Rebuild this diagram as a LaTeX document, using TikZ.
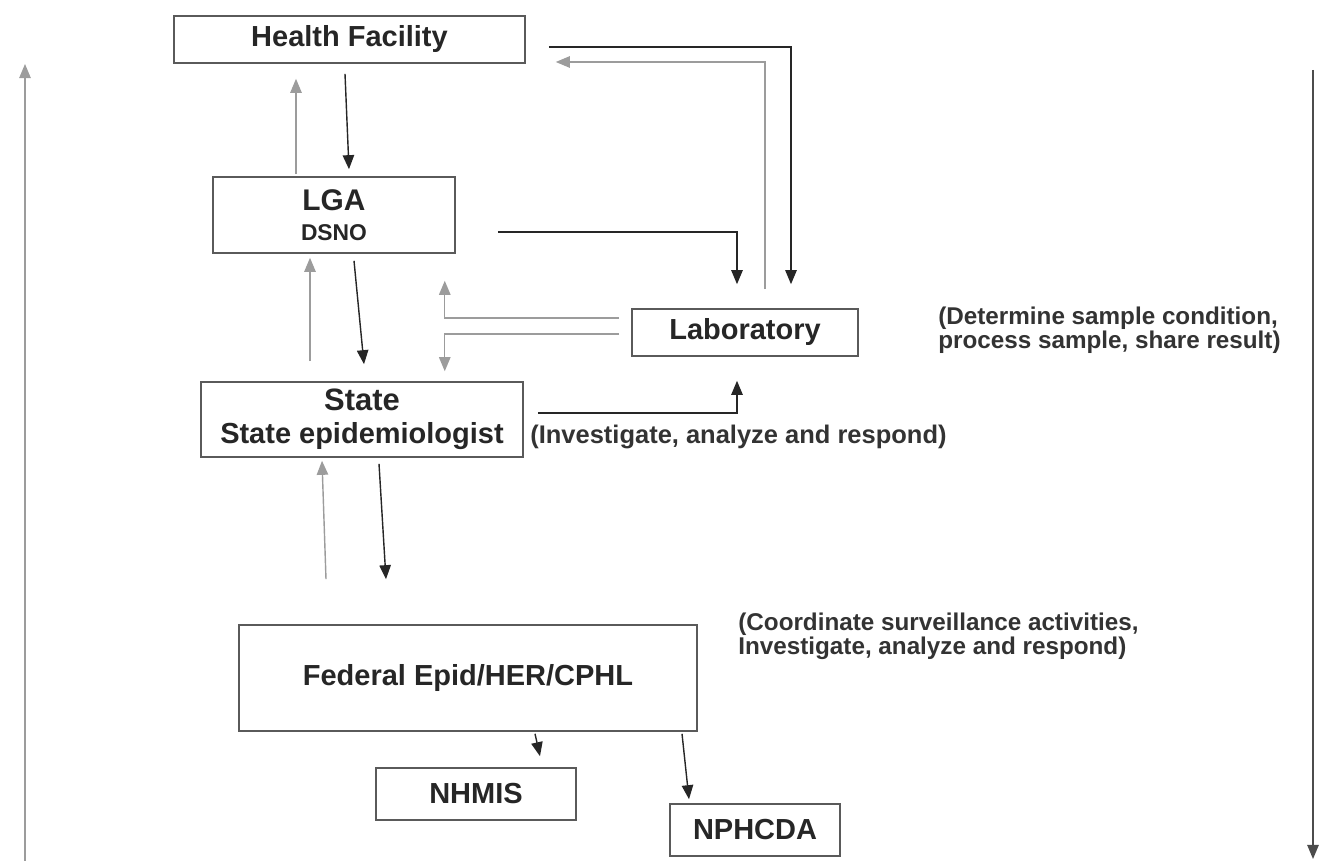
\documentclass[tikz,border=0pt]{standalone}
\usepackage{fontspec}
\setmainfont{Liberation Sans}
\usepackage{tikz}
\usetikzlibrary{arrows.meta, calc}
\definecolor{boxline}{HTML}{5A5A5A}
\definecolor{greyline}{HTML}{9C9C9C}
\definecolor{darkline}{HTML}{262626}
\tikzstyle{unit} = [rectangle, draw=boxline, line width=0.9pt, fill=white, text centered, font=\bfseries\fontsize{16.5}{19}\selectfont, text=black!85]
\tikzstyle{note} = [align=left, font=\bfseries\fontsize{13.8}{13.4}\selectfont, text=black!80, inner sep=0pt]
\tikzstyle{darrow} = [line width=0.8pt, draw=darkline, -{Triangle[length=8pt,width=6.5pt]}]
\tikzstyle{garrow} = [line width=0.8pt, draw=greyline, -{Triangle[length=8pt,width=6.5pt]}]

\begin{document}
\begin{tikzpicture}[x=0.02cm, y=-0.02cm]
  \useasboundingbox (0,0) rectangle (1319,861);
  \node (hf) [unit, minimum width=7.02cm, minimum height=0.94cm] at (349.5,39.5) {Health Facility};
  \node (lga) [unit, minimum width=4.84cm, minimum height=1.52cm, align=center] at (334,215) {\fontsize{17}{19}\selectfont LGA\\[-2pt]\fontsize{13}{15}\selectfont DSNO};
  \node (lab) [unit, minimum width=4.52cm, minimum height=0.94cm] at (745,332.5) {Laboratory};
  \node (state) [unit, minimum width=6.44cm, minimum height=1.5cm, align=center] at (362,419.5) {\fontsize{17.6}{19.5}\selectfont State\\State epidemiologist};
  \node (fed) [unit, minimum width=9.16cm, minimum height=2.12cm] at (468,678) {Federal Epid/HER/CPHL};
  \node (nhmis) [unit, minimum width=4cm, minimum height=1.04cm] at (476,794) {NHMIS};
  \node (nphcda) [unit, minimum width=3.4cm, minimum height=1.04cm] at (755,830) {NPHCDA};
  \node (invnote) [note, anchor=west, font=\bfseries\fontsize{14.5}{14}\selectfont] at (530,437) {(Investigate, analyze and respond)};
  \node (labnote) [note, anchor=north west] at (938,307) {(Determine sample condition,\\process sample, share result)};
  \node (fednote) [note, anchor=north west] at (738,613) {(Coordinate surveillance activities,\\Investigate, analyze and respond)};
  \coordinate (upfoot) at (25,861);
  \coordinate (uphead) at (25,64);
  \coordinate (downtop) at (1313,70);
  \coordinate (downfoot) at (1313,859);
  % reporting upwards (grey) and feedback downwards (black)
  \draw [garrow] ($(lga.north)+(-38,-2)$) -- ($(hf.south)+(-53.5,15)$);
  \draw [darrow] ($(hf.south)+(-4.5,10)$) -- ($(lga.north)+(15,-7)$);
  \draw [garrow] ($(state.north)+(-52,-20)$) -- ($(lga.south)+(-24,4)$);
  \draw [darrow] ($(lga.south)+(20,7)$) -- ($(state.north)+(2,-17)$);
  \draw [garrow] ($(fed.north)+(-142,-45)$) -- ($(state.south)+(-40,3)$);
  \draw [darrow] ($(state.south)+(17,6)$) -- ($(fed.north)+(-82,-45)$);
  % laboratory links
  \draw [garrow] ($(lab.west)+(-12,-14.5)$) -| ($(lga.south east)+(-11,27)$);
  \draw [garrow] ($(lab.west)+(-12,1.5)$) -| ($(state.north east)+(-79,-10)$);
  \draw [darrow] ($(lga.east)+(42,17)$) -| ($(lab.north)+(-8,-24)$);
  \draw [darrow] ($(hf.east)+(23,7.5)$) -| ($(lab.north)+(46,-24)$);
  \draw [garrow] ($(lab.north)+(20,-19)$) |- ($(hf.east)+(30,22.5)$);
  \draw [darrow] ($(state.east)+(14,-6.5)$) -| ($(lab.south)+(-8,24)$);
  % national level
  \draw [darrow] ($(fed.south)+(67,2)$) -- ($(nhmis.north)+(64,-11)$);
  \draw [darrow] ($(fed.south)+(214,2)$) -- ($(nphcda.north)+(-66,-4)$);
  % side arrows
  \draw [garrow] (upfoot) -- (uphead);
  \draw [darrow, draw=black!70] (downtop) -- (downfoot);
\end{tikzpicture}
\end{document}
